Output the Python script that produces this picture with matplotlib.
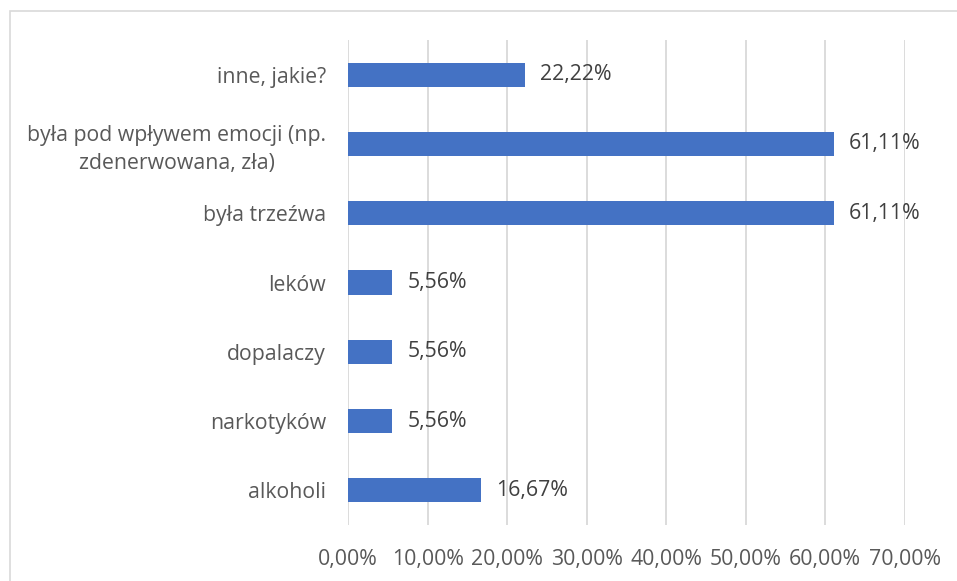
import matplotlib
matplotlib.use("Agg")
import matplotlib.pyplot as plt
from matplotlib.patches import Rectangle

categories = ["alkoholi", "narkotyków", "dopalaczy", "leków", "była trzeźwa",
              "była pod wpływem emocji (np.\nzdenerwowana, zła)", "inne, jakie?"]
values = [16.67, 5.56, 5.56, 5.56, 61.11, 61.11, 22.22]
xticks = [0, 10, 20, 30, 40, 50, 60, 70]

plt.rcParams['font.family'] = ['Open Sans', 'DejaVu Sans']
FS = 15.3

fig = plt.figure(figsize=(9.57, 5.81), dpi=100)
ax = fig.add_axes([348.2/957, 1-525/581, (904.7-348.2)/957, (525-40)/581])

ypos = list(range(len(categories)))
ax.barh(ypos, values, height=0.35, color="#4472C4", zorder=3)
for y, v in zip(ypos, values):
    ax.annotate(f"{v:.2f}%".replace(".", ","), (v, y), xytext=(15, 0),
                textcoords="offset pixels", va="center", ha="left",
                fontsize=FS, color="#404040")

ax.set_xlim(0, 70)
ax.set_ylim(-0.5, len(categories) - 0.5)
ax.set_xticks(xticks)
ax.set_xticklabels([f"{t:.2f}%".replace(".", ",") for t in xticks])
ax.set_yticks(ypos)
ax.set_yticklabels(categories)
for lab in ax.get_yticklabels():
    lab.set_multialignment("center")
    lab.set_linespacing(1.4)
ax.tick_params(axis="both", length=0, labelsize=FS, labelcolor="#595959")
ax.tick_params(axis="x", pad=17)
ax.tick_params(axis="y", pad=16)
ax.grid(axis="x", color="#d9d9d9", linewidth=1.3, zorder=0)
for s in ax.spines.values():
    s.set_visible(False)

fig.patches.append(Rectangle((10/957, -0.1), 1.2, 1 - 11/581 + 0.1,
                             transform=fig.transFigure, fill=False,
                             edgecolor="#d9d9d9", linewidth=1.2, clip_on=False))

fig.savefig("out.png", dpi=100)
